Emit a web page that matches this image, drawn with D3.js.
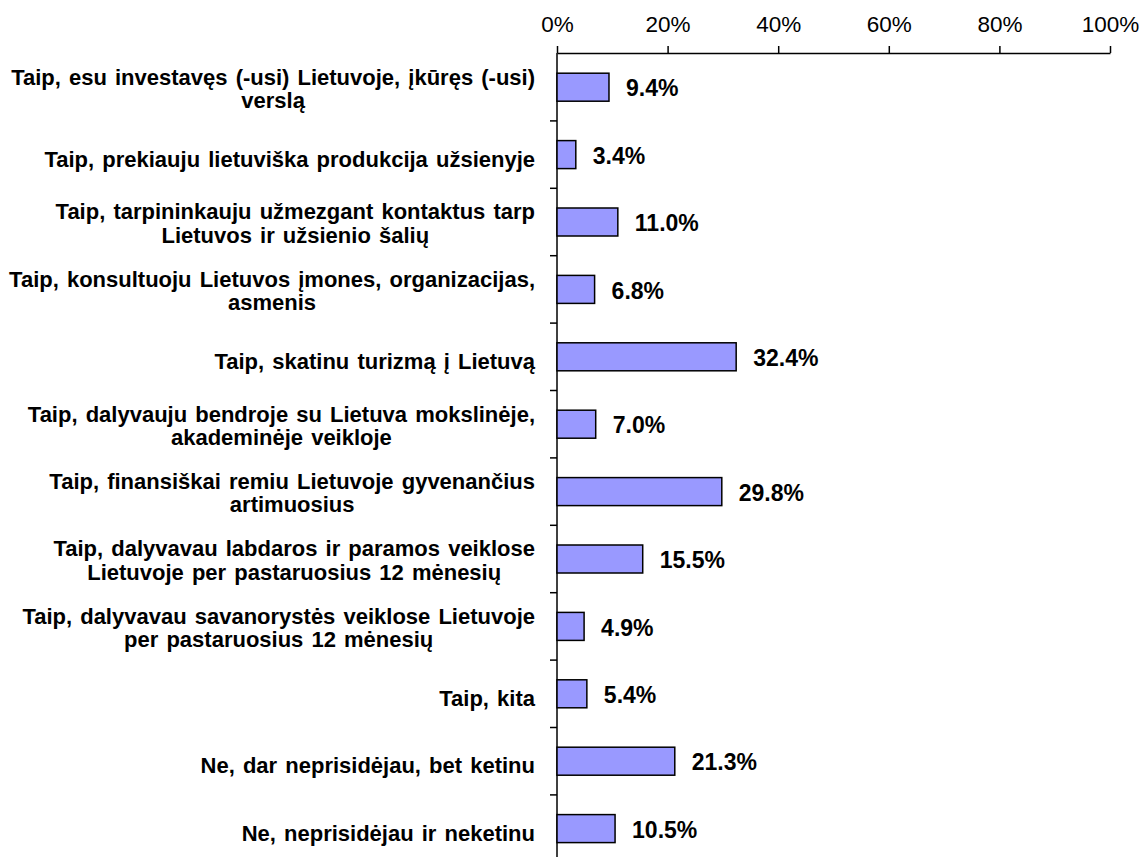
<!DOCTYPE html>
<html>
<head>
<meta charset="utf-8">
<script src="https://cdn.jsdelivr.net/npm/d3@7"></script>
<style>
  body { margin: 0; background: #fff; }
  svg { display: block; font-family: "Liberation Sans", Arial, sans-serif; }
</style>
</head>
<body>
<svg></svg>
<script>
const w = 1145;
const h = 857;

// data
const categories = [
	['Taip, esu investavęs (-usi) Lietuvoje, įkūręs (-usi)', 'verslą'],
	['Taip, prekiauju lietuviška produkcija užsienyje'],
	['Taip, tarpininkauju užmezgant kontaktus tarp', 'Lietuvos ir užsienio šalių'],
	['Taip, konsultuoju Lietuvos įmones, organizacijas,', 'asmenis'],
	['Taip, skatinu turizmą į Lietuvą'],
	['Taip, dalyvauju bendroje su Lietuva mokslinėje,', 'akademinėje veikloje'],
	['Taip, finansiškai remiu Lietuvoje gyvenančius', 'artimuosius'],
	['Taip, dalyvavau labdaros ir paramos veiklose', 'Lietuvoje per pastaruosius 12 mėnesių'],
	['Taip, dalyvavau savanorystės veiklose Lietuvoje', 'per pastaruosius 12 mėnesių'],
	['Taip, kita'],
	['Ne, dar neprisidėjau, bet ketinu'],
	['Ne, neprisidėjau ir neketinu'],
];
const values = [9.4, 3.4, 11.0, 6.8, 32.4, 7.0, 29.8, 15.5, 4.9, 5.4, 21.3, 10.5];
const tickValues = [0, 20, 40, 60, 80, 100];

const plotLeft = 557;
const plotRight = 1110;
const plotTop = 53.5;
const band = 67.4;
const barH = 28;

let canvas = d3.select('svg').attr('width', w).attr('height', h);

let xScale = d3.scaleLinear().domain([0, 100]).range([plotLeft, plotRight]);
const pad = 1 - barH / band;
let yScale = d3
	.scaleBand()
	.domain(d3.range(categories.length))
	.range([plotTop, plotTop + band * categories.length])
	.paddingInner(pad)
	.paddingOuter(pad / 2);

// top axis
let xAxis = d3
	.axisTop(xScale)
	.tickValues(tickValues)
	.tickFormat((d) => d + '%')
	.tickSizeInner(7)
	.tickSizeOuter(0)
	.tickPadding(14);

let gx = canvas.append('g').attr('transform', `translate(0,${plotTop - 0.5})`).call(xAxis);
gx.select('.domain').attr('stroke', '#000').attr('stroke-width', 1.5);
gx.selectAll('.tick line').attr('stroke', '#000').attr('stroke-width', 1.5);
gx.selectAll('.tick text')
	.attr('font-size', '22.5px')
	.attr('font-family', '"Liberation Sans", Arial, sans-serif')
	.attr('fill', '#000');

// left axis: ticks at band boundaries
let boundaries = d3.range(1, categories.length + 1).map((i) => plotTop + i * band);
canvas
	.append('line')
	.attr('x1', plotLeft)
	.attr('x2', plotLeft)
	.attr('y1', plotTop - 0.5)
	.attr('y2', plotTop + band * categories.length)
	.attr('stroke', '#000')
	.attr('stroke-width', 1.5);
canvas
	.selectAll('.ytick')
	.data(boundaries)
	.enter()
	.append('line')
	.attr('class', 'ytick')
	.attr('x1', plotLeft - 7)
	.attr('x2', plotLeft)
	.attr('y1', (d) => d)
	.attr('y2', (d) => d)
	.attr('stroke', '#000')
	.attr('stroke-width', 1.5);

// bars
canvas
	.selectAll('.bar')
	.data(values)
	.enter()
	.append('rect')
	.attr('class', 'bar')
	.attr('x', xScale(0))
	.attr('y', (d, i) => yScale(i))
	.attr('width', (d) => xScale(d) - xScale(0))
	.attr('height', yScale.bandwidth())
	.attr('fill', '#9999ff')
	.attr('stroke', '#000')
	.attr('stroke-width', 1.5);

// value labels
canvas
	.selectAll('.val')
	.data(values)
	.enter()
	.append('text')
	.attr('class', 'val')
	.attr('x', (d) => xScale(d) + 17)
	.attr('y', (d, i) => yScale(i) + yScale.bandwidth() / 2)
	.attr('dy', '0.4em')
	.attr('font-size', '23px')
	.attr('font-weight', 'bold')
	.text((d) => d.toFixed(1) + '%');

// category labels, lines centred on each other, block right-aligned
const labelRight = 535;
categories.forEach((lines, i) => {
	let cy = yScale(i) + yScale.bandwidth() / 2;
	let n = lines.length;
	let g = canvas.append('g');
	let texts = lines.map((line, j) =>
		g
			.append('text')
			.attr('y', cy + (n === 1 ? 12 : 9) + (j - (n - 1) / 2) * 23.4)
			.attr('font-size', '22px')
			.attr('font-weight', 'bold')
			.attr('word-spacing', '2px')
			.attr('text-anchor', 'middle')
			.text(line)
	);
	let maxW = d3.max(texts, (t) => t.node().getComputedTextLength());
	texts.forEach((t) => t.attr('x', labelRight - maxW / 2));
});
</script>
</body>
</html>
